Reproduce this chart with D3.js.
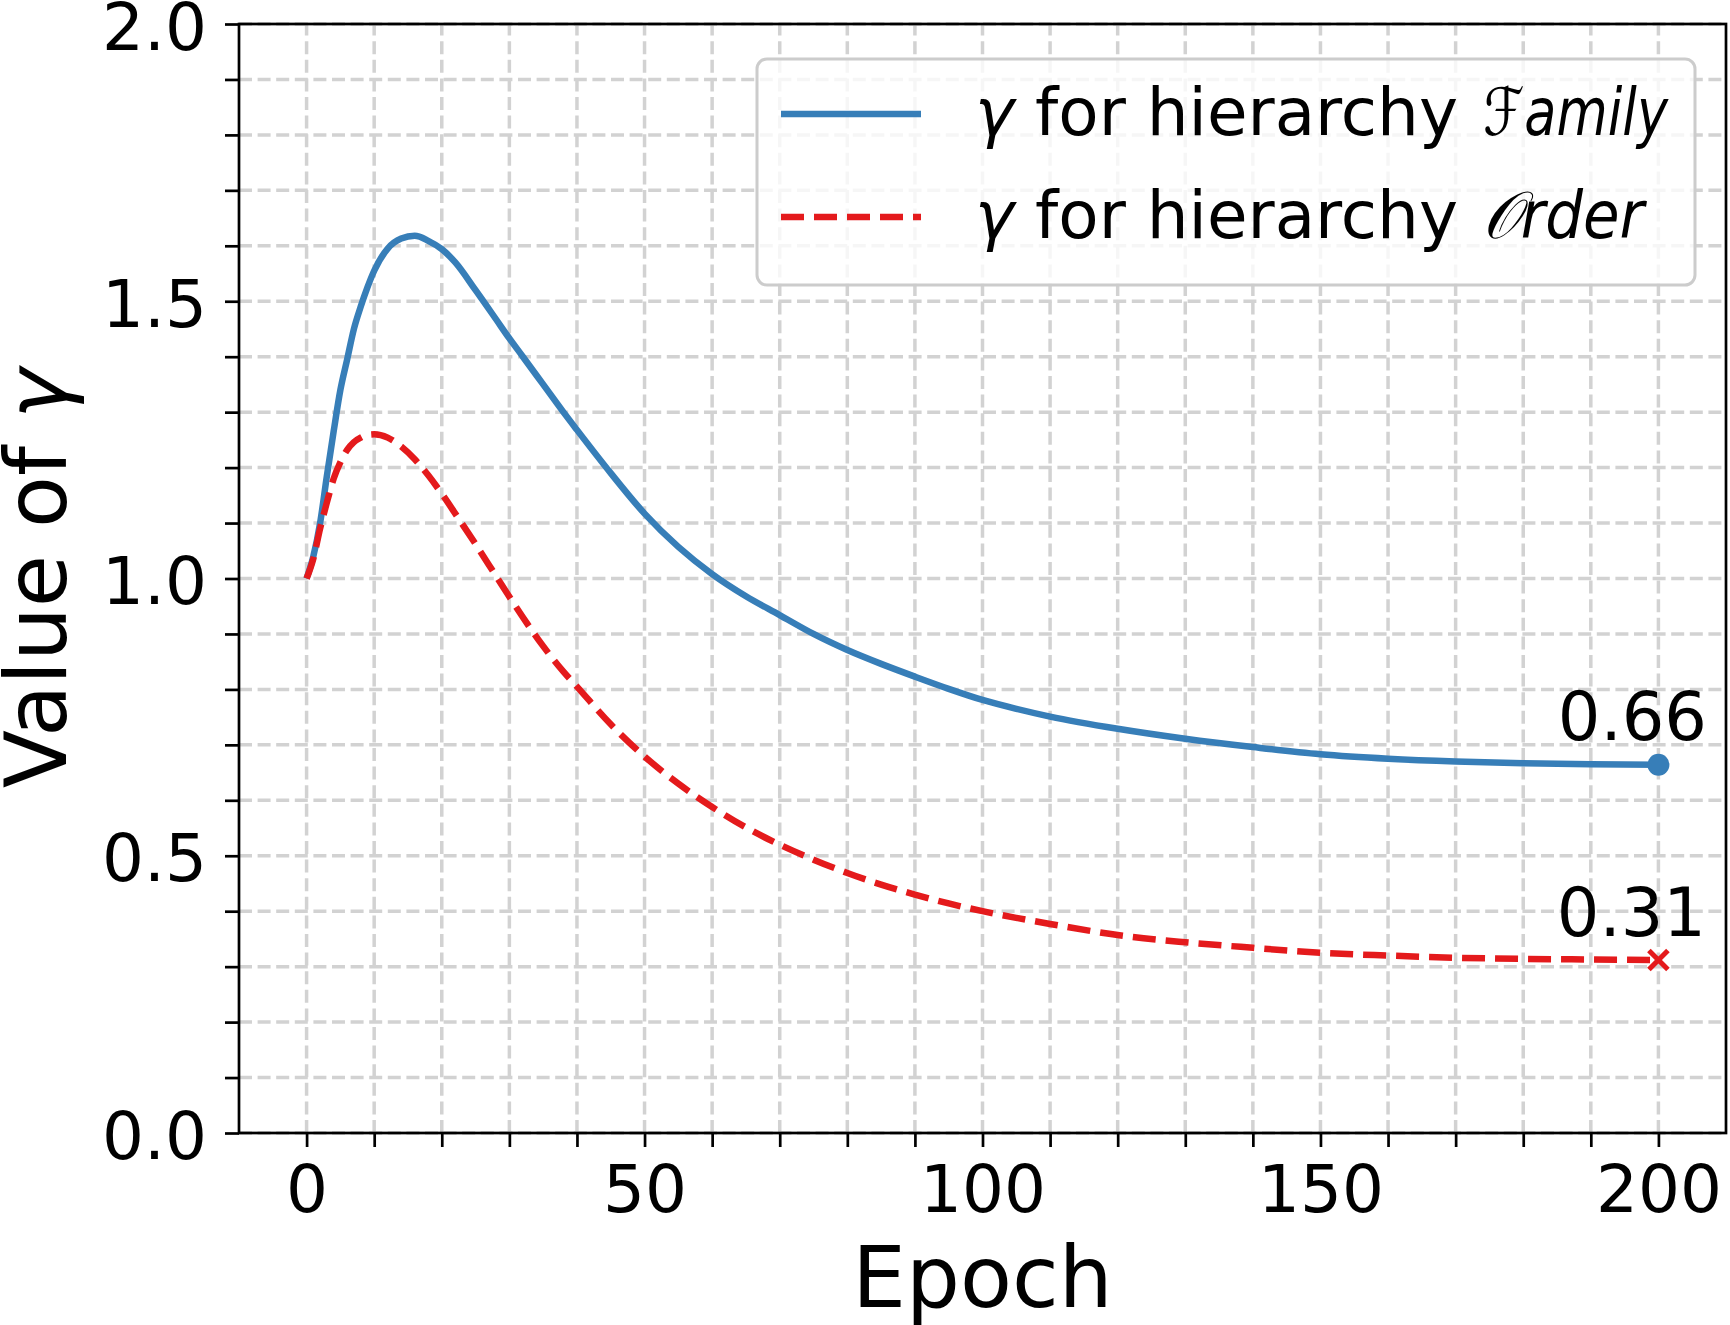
<!DOCTYPE html>
<html>
<head>
<meta charset="utf-8">
<script src="https://cdnjs.cloudflare.com/ajax/libs/d3/7.8.5/d3.min.js"></script>
<style>
  body { margin: 0; background: #fff; }
  text { font-family: "DejaVu Sans", sans-serif; fill: #000; }
</style>
</head>
<body>
<div class="chart"></div>
<script>
// values
var epochs = [0, 1, 2, 3, 4, 5, 6, 7, 8, 9, 10, 12, 14, 16, 18, 20, 22, 25, 28, 30, 32, 35, 38, 40, 45, 50, 55, 60, 65, 70, 75, 80, 85, 90, 95, 100, 105, 110, 120, 130, 140, 150, 160, 170, 180, 190, 200];
var familyGamma = [1.0, 1.04, 1.10, 1.185, 1.265, 1.34, 1.395, 1.45, 1.49, 1.525, 1.555, 1.595, 1.613, 1.618, 1.609, 1.594, 1.570, 1.520, 1.468, 1.433, 1.40, 1.35, 1.30, 1.268, 1.19, 1.117, 1.057, 1.008, 0.968, 0.934, 0.9, 0.871, 0.846, 0.823, 0.801, 0.781, 0.765, 0.751, 0.729, 0.711, 0.696, 0.683, 0.675, 0.67, 0.667, 0.665, 0.664];
var orderGamma = [1.0, 1.036, 1.09, 1.137, 1.18, 1.21, 1.232, 1.246, 1.254, 1.259, 1.26, 1.254, 1.238, 1.215, 1.186, 1.153, 1.117, 1.062, 1.005, 0.967, 0.93, 0.878, 0.832, 0.805, 0.737, 0.679, 0.63, 0.588, 0.551, 0.52, 0.493, 0.469, 0.448, 0.43, 0.414, 0.4, 0.388, 0.377, 0.357, 0.344, 0.334, 0.325, 0.32, 0.316, 0.314, 0.313, 0.312];
var finalLabels = ["0.66", "0.31"];
var xTicks = d3.range(0, 201, 10);
var xTickLabels = [0, 50, 100, 150, 200];
var yTicks = d3.range(0, 2.01, 0.1);
var yTickLabels = [0.0, 0.5, 1.0, 1.5, 2.0];

var svgWidth = 1730;
var svgHeight = 1325;

var margin = {
  top: 24,
  right: 4,
  bottom: 192,
  left: 239
};

var width = svgWidth - margin.left - margin.right;
var height = svgHeight - margin.top - margin.bottom;

var blue = "#377eb8";
var red = "#e41a1c";

var svg = d3.select(".chart")
  .append("svg")
  .attr("width", svgWidth)
  .attr("height", svgHeight);

var chartGroup = svg.append("g")
  .attr("transform", `translate(${margin.left}, ${margin.top})`);

var xScale = d3.scaleLinear()
  .domain([-10, 210])
  .range([0, width]);

var yScale = d3.scaleLinear()
  .domain([0, 2])
  .range([height, 0]);

// grid (major + minor, dashed)
chartGroup.append("g")
  .selectAll("line")
  .data(xTicks)
  .enter()
  .append("line")
  .attr("x1", d => xScale(d))
  .attr("x2", d => xScale(d))
  .attr("y1", height)
  .attr("y2", 0)
  .attr("stroke", "#d2d2d2")
  .attr("stroke-width", 3.5)
  .attr("stroke-dasharray", "13,5.6");

chartGroup.append("g")
  .selectAll("line")
  .data(yTicks)
  .enter()
  .append("line")
  .attr("x1", 0)
  .attr("x2", width)
  .attr("y1", d => yScale(d))
  .attr("y2", d => yScale(d))
  .attr("stroke", "#d2d2d2")
  .attr("stroke-width", 3.5)
  .attr("stroke-dasharray", "13,5.6");

// axes
var bottomAxis = d3.axisBottom(xScale)
  .tickValues(xTicks)
  .tickSize(14)
  .tickPadding(18)
  .tickFormat(d => xTickLabels.indexOf(d) >= 0 ? d : "");

var leftAxis = d3.axisLeft(yScale)
  .tickValues(yTicks)
  .tickSize(14)
  .tickPadding(18)
  .tickFormat(d => yTickLabels.some(v => Math.abs(v - d) < 1e-6) ? d3.format(".1f")(d) : "");

var xAxisG = chartGroup.append("g")
  .attr("transform", `translate(0, ${height})`)
  .call(bottomAxis);

var yAxisG = chartGroup.append("g")
  .call(leftAxis);

[xAxisG, yAxisG].forEach(function (g) {
  g.select(".domain").remove();
  g.selectAll(".tick line").attr("stroke", "#000").attr("stroke-width", 2.7);
  g.selectAll(".tick text")
    .style("font-family", "'DejaVu Sans', sans-serif")
    .style("font-size", "66px")
    .attr("fill", "#000");
});
yAxisG.selectAll(".tick text").attr("dy", "0.38em");

// lines
var lineGen = d3.line()
  .x(d => xScale(d[0]))
  .y(d => yScale(d[1]))
  .curve(d3.curveMonotoneX);

var familyData = epochs.map((e, i) => [e, familyGamma[i]]);
var orderData = epochs.map((e, i) => [e, orderGamma[i]]);

chartGroup.append("path")
  .datum(familyData)
  .attr("d", lineGen)
  .attr("fill", "none")
  .attr("stroke", blue)
  .attr("stroke-width", 6.5);

chartGroup.append("path")
  .datum(orderData)
  .attr("d", lineGen)
  .attr("fill", "none")
  .attr("stroke", red)
  .attr("stroke-width", 6.5)
  .attr("stroke-dasharray", "23,10");

// end markers + labels
var lastE = epochs[epochs.length - 1];
var lastF = familyGamma[familyGamma.length - 1];
var lastO = orderGamma[orderGamma.length - 1];

chartGroup.append("circle")
  .attr("cx", xScale(lastE))
  .attr("cy", yScale(lastF))
  .attr("r", 11)
  .attr("fill", blue);

var xm = chartGroup.append("g")
  .attr("transform", `translate(${xScale(lastE)}, ${yScale(lastO)})`);
xm.append("line").attr("x1", -9.5).attr("y1", -9.5).attr("x2", 9.5).attr("y2", 9.5)
  .attr("stroke", red).attr("stroke-width", 5);
xm.append("line").attr("x1", -9.5).attr("y1", 9.5).attr("x2", 9.5).attr("y2", -9.5)
  .attr("stroke", red).attr("stroke-width", 5);

chartGroup.append("text")
  .attr("x", xScale(lastE) - 26)
  .attr("y", yScale(lastF) - 25)
  .attr("text-anchor", "middle")
  .style("font-size", "67px")
  .text(finalLabels[0]);

chartGroup.append("text")
  .attr("x", xScale(lastE) - 27)
  .attr("y", yScale(lastO) - 24)
  .attr("text-anchor", "middle")
  .style("font-size", "67px")
  .text(finalLabels[1]);

// frame
chartGroup.append("rect")
  .attr("x", 0)
  .attr("y", 0)
  .attr("width", width)
  .attr("height", height)
  .attr("fill", "none")
  .attr("stroke", "#000")
  .attr("stroke-width", 2.7);

// legend
var legend = svg.append("g");
legend.append("rect")
  .attr("x", 757)
  .attr("y", 59)
  .attr("width", 938)
  .attr("height", 226)
  .attr("rx", 10)
  .attr("fill", "#fff")
  .attr("fill-opacity", 0.8)
  .attr("stroke", "#cccccc")
  .attr("stroke-width", 3);

var legendItems = [
  { color: blue, dash: null, name: "\u2131amily", len: 185, y: 135 },
  { color: red, dash: "23,10", name: "\uD835\uDCAArder", len: 161, y: 238 }
];

legendItems.forEach(function (item) {
  legend.append("line")
    .attr("x1", 781)
    .attr("x2", 921)
    .attr("y1", item.y - 21)
    .attr("y2", item.y - 21)
    .attr("stroke", item.color)
    .attr("stroke-width", 6.5)
    .attr("stroke-dasharray", item.dash);

  var t = legend.append("text")
    .attr("x", 975)
    .attr("y", item.y)
    .style("font-size", "66px");
  t.append("tspan").style("font-style", "italic").text("\u03b3");
  t.append("tspan").text(" for hierarchy ");
  t.append("tspan")
    .attr("x", 1483)
    .attr("textLength", item.len)
    .attr("lengthAdjust", "spacingAndGlyphs")
    .style("font-style", "italic")
    .text(item.name);
});

// axis labels
svg.append("text")
  .attr("x", margin.left + width / 2)
  .attr("y", 1307)
  .attr("text-anchor", "middle")
  .style("font-size", "85px")
  .text("Epoch");

var yLabel = svg.append("text")
  .attr("transform", `translate(66, ${margin.top + height / 2}) rotate(-90)`)
  .attr("text-anchor", "middle")
  .style("font-size", "85px");
yLabel.append("tspan").text("Value of ");
yLabel.append("tspan").style("font-style", "italic").text("\u03b3");
</script>
</body>
</html>
